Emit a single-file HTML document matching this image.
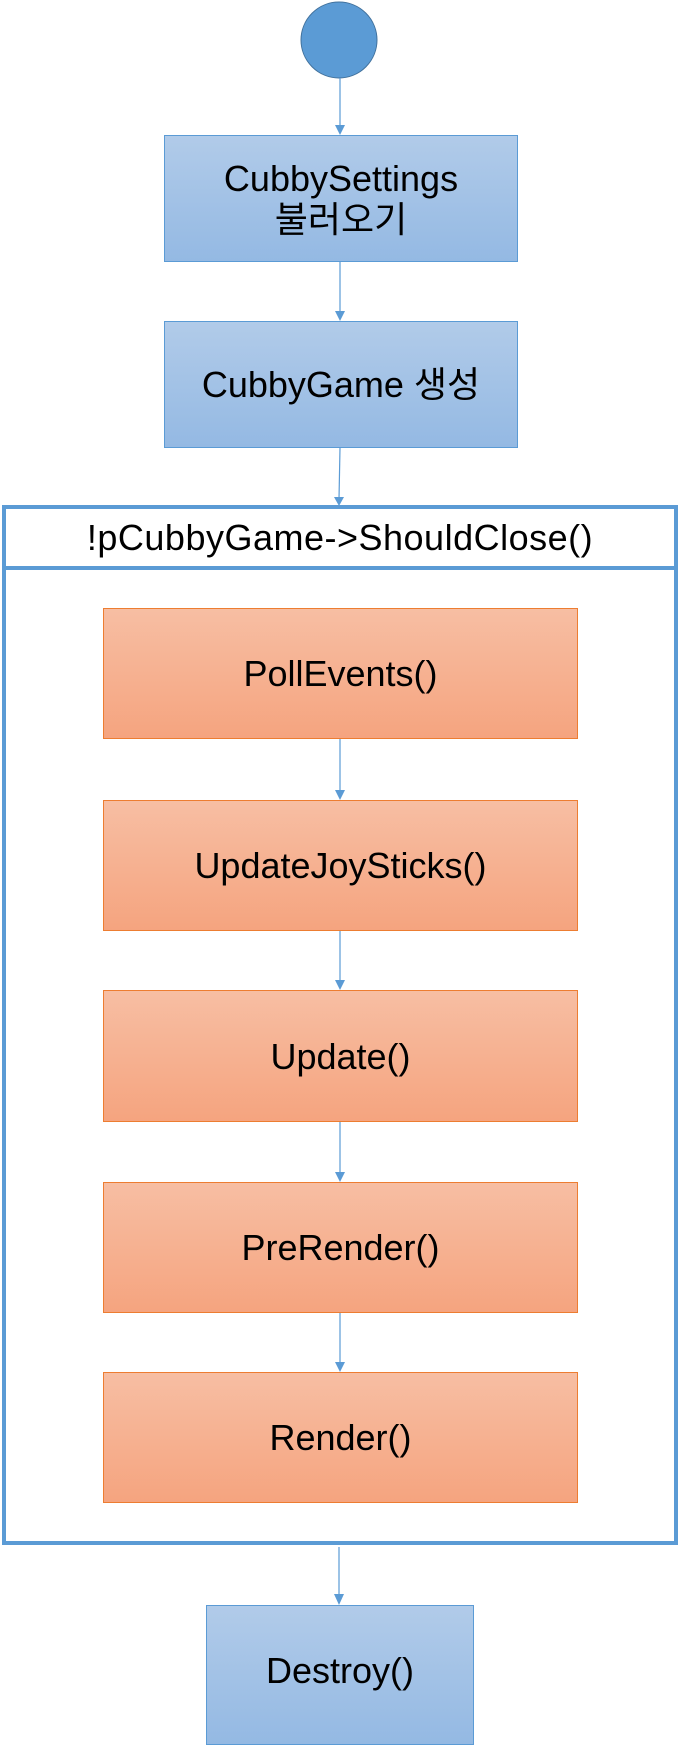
<!DOCTYPE html>
<html><head><meta charset="utf-8"><style>
body{margin:0;width:680px;height:1736px;background:#fff;position:relative;overflow:hidden;font-family:"Liberation Sans","Noto Sans CJK KR",sans-serif;}
.b{position:absolute;box-sizing:border-box;display:flex;align-items:center;justify-content:center;text-align:center;font-size:36px;line-height:41px;color:#000;white-space:nowrap;}
.blue{background:linear-gradient(#b1cbe9,#94b9e3);border:1px solid #5b9bd5;}
.or{background:linear-gradient(#f7bea3,#f5a47f);border:1px solid #ed7d31;left:103px;width:475px;height:131px;}
svg{z-index:2}
</style></head><body>
<div class="b blue" style="left:164px;top:135px;width:354px;height:127px;">CubbySettings<br>불러오기</div>
<div class="b blue" style="left:164px;top:321px;width:354px;height:127px;">CubbyGame 생성</div>
<div class="b" style="left:6px;top:509px;width:668px;height:57px;font-size:36px;letter-spacing:0.5px;">!pCubbyGame-&gt;ShouldClose()</div>
<div class="b or" style="top:608px;">PollEvents()</div>
<div class="b or" style="top:800px;">UpdateJoySticks()</div>
<div class="b or" style="top:990px;height:132px;">Update()</div>
<div class="b or" style="top:1182px;">PreRender()</div>
<div class="b or" style="top:1372px;">Render()</div>
<div class="b blue" style="left:206px;top:1605px;width:268px;height:140px;padding-bottom:10px;">Destroy()</div>
<svg width="680" height="1736" style="position:absolute;left:0;top:0">
<circle cx="339" cy="40" r="38" fill="#5b9bd5" stroke="#41719c" stroke-width="1"/>
<g stroke="#5b9bd5" stroke-width="1.2" fill="none">
<line x1="340" y1="78" x2="340" y2="128"/>
<line x1="340" y1="262" x2="340" y2="314"/>
<line x1="340" y1="448" x2="339" y2="499"/>
<line x1="340" y1="739" x2="340" y2="792"/>
<line x1="340" y1="931" x2="340" y2="982"/>
<line x1="340" y1="1122" x2="340" y2="1174"/>
<line x1="340" y1="1313" x2="340" y2="1364"/>
<line x1="339" y1="1547" x2="339" y2="1597"/>
</g>
<g fill="#5b9bd5">
<polygon points="335,125 345,125 340,135"/>
<polygon points="335,311 345,311 340,321"/>
<polygon points="334,497 344,497 339,506"/>
<polygon points="335,790 345,790 340,800"/>
<polygon points="335,980 345,980 340,990"/>
<polygon points="335,1172 345,1172 340,1182"/>
<polygon points="335,1362 345,1362 340,1372"/>
<polygon points="334,1594 344,1594 339,1605"/>
</g>
<rect x="4" y="507" width="672" height="1036" fill="none" stroke="#5b9bd5" stroke-width="4"/>
<line x1="4" y1="568" x2="676" y2="568" stroke="#5b9bd5" stroke-width="4"/>
</svg>
</body></html>
